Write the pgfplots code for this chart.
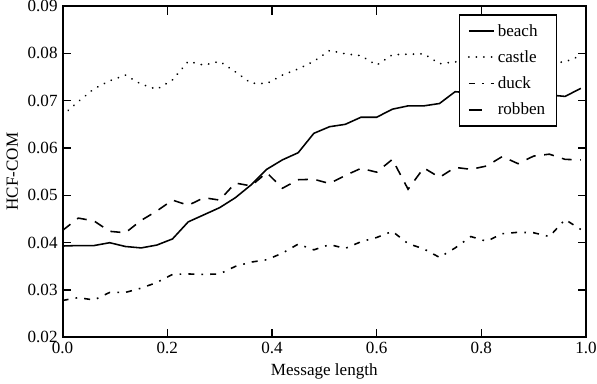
\documentclass[border=0pt]{standalone}
\usepackage{pgfplots}
\pgfplotsset{compat=1.18}
\usepackage{pgfplotstable}
\usepackage{fontspec}
\setmainfont{Liberation Serif}

\pgfplotstableread{
x y
0.00 0.0393
0.03 0.0394
0.06 0.0394
0.09 0.0400
0.12 0.0392
0.15 0.0389
0.18 0.0395
0.21 0.0408
0.24 0.0444
0.27 0.0459
0.30 0.0474
0.33 0.0495
0.36 0.0522
0.39 0.0555
0.42 0.0575
0.45 0.0590
0.48 0.0631
0.51 0.0645
0.54 0.0650
0.57 0.0665
0.60 0.0665
0.63 0.0682
0.66 0.0689
0.69 0.0689
0.72 0.0694
0.75 0.0719
0.78 0.0716
0.81 0.0713
0.84 0.0712
0.87 0.0714
0.90 0.0716
0.93 0.0712
0.96 0.0709
0.99 0.0726
}\beach

\pgfplotstableread{
x y
0.00 0.0669
0.03 0.0698
0.06 0.0725
0.09 0.0742
0.12 0.0754
0.15 0.0735
0.18 0.0724
0.21 0.0744
0.24 0.0783
0.27 0.0775
0.30 0.0783
0.33 0.0761
0.36 0.0737
0.39 0.0736
0.42 0.0754
0.45 0.0767
0.48 0.0783
0.51 0.0806
0.54 0.0799
0.57 0.0795
0.60 0.0775
0.63 0.0797
0.66 0.0798
0.69 0.0799
0.72 0.0778
0.75 0.0782
0.78 0.0784
0.81 0.0786
0.84 0.0788
0.87 0.0785
0.90 0.0782
0.93 0.0780
0.96 0.0782
0.99 0.0795
}\castle

\pgfplotstableread{
x y
0.00 0.0278
0.03 0.0284
0.06 0.0279
0.09 0.0295
0.12 0.0295
0.15 0.0304
0.18 0.0316
0.21 0.0333
0.24 0.0334
0.27 0.0333
0.30 0.0334
0.33 0.0350
0.36 0.0359
0.39 0.0364
0.42 0.0378
0.45 0.0397
0.48 0.0385
0.51 0.0396
0.54 0.0388
0.57 0.0402
0.60 0.0411
0.63 0.0424
0.66 0.0398
0.69 0.0387
0.72 0.0369
0.75 0.0389
0.78 0.0413
0.81 0.0403
0.84 0.0419
0.87 0.0422
0.90 0.0421
0.93 0.0413
0.96 0.0449
0.99 0.0428
}\duck

\pgfplotstableread{
x y
0.00 0.0426
0.03 0.0452
0.06 0.0446
0.09 0.0424
0.12 0.0421
0.15 0.0447
0.18 0.0467
0.21 0.0490
0.24 0.0479
0.27 0.0495
0.30 0.0490
0.33 0.0526
0.36 0.0520
0.39 0.0548
0.42 0.0515
0.45 0.0533
0.48 0.0534
0.51 0.0525
0.54 0.0542
0.57 0.0557
0.60 0.0549
0.63 0.0576
0.66 0.0513
0.69 0.0558
0.72 0.0538
0.75 0.0559
0.78 0.0555
0.81 0.0562
0.84 0.0582
0.87 0.0567
0.90 0.0583
0.93 0.0587
0.96 0.0576
0.99 0.0575
}\robben

\pgfplotsset{
  shortlegend/.style={legend image code/.code={\draw[##1, solid] (0cm,0cm) -- (0.33cm,0cm);}},
}

\begin{document}
\begin{tikzpicture}
\begin{axis}[
  scale only axis,
  width=368pt, height=233pt,
  xmin=0, xmax=1, ymin=0.02, ymax=0.09,
  xtick={0,0.2,0.4,0.6,0.8,1.0},
  ytick={0.02,0.03,0.04,0.05,0.06,0.07,0.08,0.09},
  scaled x ticks=false, scaled y ticks=false,
  xticklabel style={/pgf/number format/.cd,fixed,fixed zerofill,precision=1,assume math mode=true},
  yticklabel style={/pgf/number format/.cd,fixed,fixed zerofill,precision=2,assume math mode=true},
  tick label style={font=\rmfamily\fontsize{12}{14}\selectfont},
  label style={font=\rmfamily\fontsize{12}{14}\selectfont},
  xlabel={Message length},
  ylabel={HCF-COM},
  axis line style={line width=1.3pt},
  major tick style={line width=0.8pt, black},
  major tick length=6pt,
  tick align=inside,
  legend cell align=left,
  legend style={at={(0.945,0.975)}, anchor=north east, draw=black, line width=1pt,
    font=\rmfamily\fontsize{12}{14}\selectfont, row sep=4.6pt, inner xsep=6pt, inner ysep=4.5pt},
  legend image code/.code={\draw[#1] (0cm,0cm) -- (0.62cm,0cm);},
]
\addplot[black, line width=1.1pt] table[x=x,y=y] {\beach};
\addlegendentry{beach}
\addplot[black, line width=1.4pt, line cap=round, dash pattern=on 0.01pt off 5.3pt] table[x=x,y=y] {\castle};
\addlegendentry{castle}
\addplot[black, line width=1.1pt, dash pattern=on 4.2pt off 5pt on 1.2pt off 5pt] table[x=x,y=y] {\duck};
\addlegendentry{duck}
\addplot[black, line width=1.1pt, dash pattern=on 7pt off 6pt, shortlegend] table[x=x,y=y] {\robben};
\addlegendentry{robben}
\coordinate (bl) at (rel axis cs:0,0);
\coordinate (tr) at (rel axis cs:1,1);
\end{axis}
\pgfresetboundingbox
\path[use as bounding box] ([xshift=-44pt,yshift=-32.4pt]bl) rectangle ([xshift=7.7pt,yshift=4.2pt]tr);
\end{tikzpicture}
\end{document}
